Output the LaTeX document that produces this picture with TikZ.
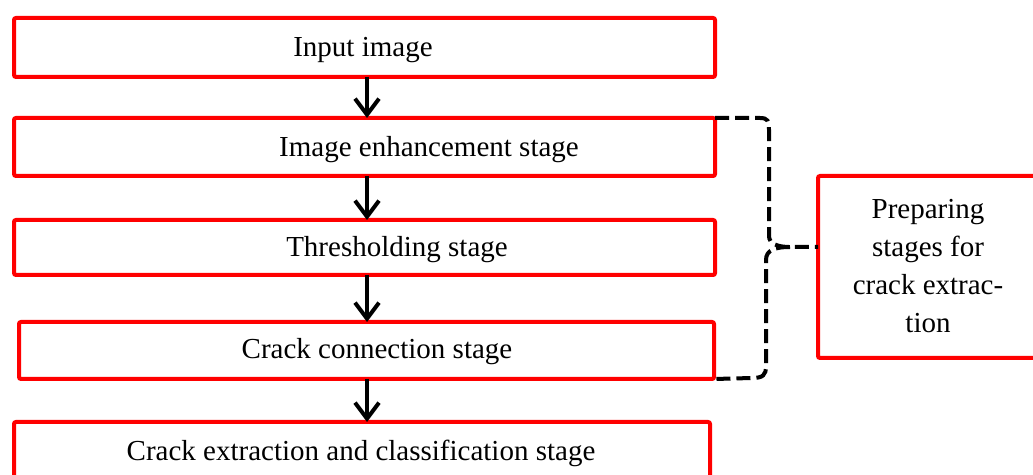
\documentclass[tikz,border=0pt]{standalone}
\usepackage{fontspec}
\setmainfont{Liberation Serif}
\usetikzlibrary{arrows.meta}
\definecolor{boxred}{RGB}{255,0,0}
\tikzset{
  stagebox/.style={draw=boxred, line width=2pt, rounded corners=1pt, inner sep=0pt, outer sep=0pt, fill=white},
  lbl/.style={font=\fontsize{14.5pt}{19pt}\selectfont, inner sep=0pt, align=center},
  arr/.style={draw=black, line width=2pt, -{Straight Barb[length=8pt, width=12pt, line width=2pt]}},
  brace/.style={draw=black, line width=2pt, dash pattern=on 7pt off 3pt},
}
\begin{document}
\begin{tikzpicture}[x=0.5pt, y=-0.5pt]
\useasboundingbox (0,0) rectangle (1033,475);
% boxes
\node[stagebox, minimum width=350.5pt, minimum height=29.5pt] (b1) at (364.5,47.5) {};
\node[stagebox, minimum width=350.5pt, minimum height=29pt] (b2) at (364.5,147) {};
\node[stagebox, minimum width=350.5pt, minimum height=27.5pt] (b3) at (364.5,247.5) {};
\node[stagebox, minimum width=347.5pt, minimum height=28.5pt] (b4) at (366.5,350.5) {};
\node[stagebox, minimum width=348pt, minimum height=31.5pt] (b5) at (362,453.5) {};
\node[stagebox, minimum width=111pt, minimum height=91pt] (R) at (929,267) {};
% labels
\node[lbl] (t1) at (363,50) {Input image};
\node[lbl] (t2) at (429,150) {Image enhancement stage};
\node[lbl] (t3) at (397,250) {Thresholding stage};
\node[lbl] (t4) at (377,352) {Crack connection stage};
\node[lbl] (t5) at (361,453) {Crack extraction and classification stage};
\node[lbl] (tR) at (928,266) {Preparing\\stages for\\crack extrac-\\tion};
% arrows
\coordinate (ax) at (367,0);
\draw[arr] (b1.south -| ax) -- (b2.north -| ax);
\draw[arr] (b2.south -| ax) -- (b3.north -| ax);
\draw[arr] (b3.south -| ax) -- (b4.north -| ax);
\draw[arr] (b4.south -| ax) -- (b5.north -| ax);
% brace
\coordinate (tip) at (790,247);
\draw[brace] (b2.north east) -- (760,118) .. controls (768,118) and (769,121) .. (769,130) -- (769,236) .. controls (769,244) and (778,247) .. (tip) -- (tip -| R.west);
\draw[brace] (tip) .. controls (775,247) and (766,250) .. (766,260) -- (766,366) .. controls (766,375) and (763,378) .. (752,378) -- (b4.south east);
\end{tikzpicture}
\end{document}
